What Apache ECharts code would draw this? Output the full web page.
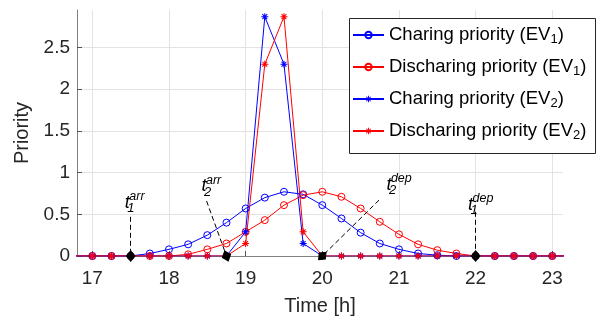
<!DOCTYPE html>
<html><head><meta charset="utf-8">
<script src="https://cdn.jsdelivr.net/npm/echarts@6/dist/echarts.min.js"></script>
<style>html,body{margin:0;padding:0;background:#fff}#c{width:599px;height:321px}</style>
</head><body><div id="c"></div>
<script>
// ---- data ----
const times = [16.75,17,17.25,17.5,17.75,18,18.25,18.5,18.75,19,19.25,19.5,19.75,20,20.25,20.5,20.75,21,21.25,21.5,21.75,22,22.25,22.5,22.75,23,23.25];
const chargingEV1    = [0,0,0,0,0.03,0.08,0.14,0.25,0.40,0.57,0.70,0.77,0.74,0.61,0.45,0.28,0.15,0.08,0.03,0.01,0,0,0,0,0,0,0];
const dischargingEV1 = [0,0,0,0,0,0,0.02,0.08,0.15,0.29,0.43,0.61,0.73,0.77,0.71,0.57,0.41,0.26,0.14,0.07,0.03,0,0,0,0,0,0];
const chargingEV2    = [0,0,0,0,0,0,0,0,0,0.29,2.87,2.30,0.15,0,0,0,0,0,0,0,0,0,0,0,0,0,0];
const dischargingEV2 = [0,0,0,0,0,0,0,0,0,0.15,2.30,2.87,0.29,0,0,0,0,0,0,0,0,0,0,0,0,0,0];
const seriesNames = ['Charing priority (EV1)','Discharing priority (EV1)','Charing priority (EV2)','Discharing priority (EV2)'];
const xTicks = [17,18,19,20,21,22,23];
const yTicks = [0,0.5,1,1.5,2,2.5];
// annotations (arrow head, arrow tail, text anchor)
const annoHead = [[17.5,0],[18.75,0],[20,0],[22,0]];
const annoTail = [[17.5,0.47],[18.49,0.66],[20.74,0.67],[22,0.53]];
const annoText = [[17.457,0.639],[18.456,0.836],[20.869,0.854],[21.934,0.615]];
const annoSup = ['arr','arr','dep','dep'];
const annoSub = ['1','2','2','1'];

const FONT = "'Liberation Sans', Arial, Helvetica, sans-serif";
const STAR = 'path://M8.5 0H11.5V20H8.5Z M0 8.5H20V11.5H0Z M4.06 1.94L18.06 15.94L15.94 18.06L1.94 4.06Z M15.94 1.94L18.06 4.06L4.06 18.06L1.94 15.94Z';

function pts(vals){ return times.map((t,i)=>[t, vals[i]]); }
function circleSeries(name, vals, color){
  return {name, type:'line', data: pts(vals), symbol:'circle', symbolSize:7, clip:true, animation:false, silent:true,
    lineStyle:{color, width:1}, itemStyle:{color:'transparent', borderColor:color, borderWidth:1}};
}
function starSeries(name, vals, color){
  return {name, type:'line', data: pts(vals), symbol:STAR, symbolSize:7, clip:true, animation:false, silent:true,
    lineStyle:{color, width:1}, itemStyle:{color, borderWidth:0}};
}

const labelPts = [];
annoText.forEach((p,i)=>{
  labelPts.push({coord:p, label:{show:true, position:'inside', formatter:'t', fontStyle:'italic', fontSize:18, color:'#000', fontFamily:FONT}});
  labelPts.push({coord:p, label:{show:true, position:'inside', align:'left', offset:[2,-6], formatter:annoSup[i], fontStyle:'italic', fontSize:12.5, color:'#000', fontFamily:FONT}});
  labelPts.push({coord:p, label:{show:true, position:'inside', align:'left', offset:[0,6], formatter:annoSub[i], fontStyle:'italic', fontSize:13, color:'#000', fontFamily:FONT}});
});

const chart = echarts.init(document.getElementById('c'), null, {renderer:'canvas'});
const option = {
  animation:false,
  backgroundColor:'#fff',
  grid:{left:77, top:10, right:36, bottom:63, containLabel:false},
  graphic:[{type:'rect', z:3, silent:true, shape:{x:349.5, y:18.5, width:246, height:135},
    style:{fill:'#fff', stroke:'#262626', lineWidth:1}}],
  xAxis:{type:'value', min:16.8, max:23.14,
    name:'Time [h]', nameLocation:'middle', nameGap:40,
    nameTextStyle:{fontSize:20, color:'#262626', fontFamily:FONT},
    axisLine:{show:true, onZero:false, lineStyle:{color:'#808080', width:1}},
    axisTick:{show:true, inside:true, length:5, customValues:xTicks, lineStyle:{color:'#555'}},
    axisLabel:{customValues:xTicks, margin:13, fontSize:19, color:'#262626', fontFamily:FONT},
    splitLine:{show:true, lineStyle:{color:'#e3e3e3', width:1}}
  },
  yAxis:{type:'value', min:0, max:2.95,
    name:'Priority', nameLocation:'middle', nameGap:41,
    nameTextStyle:{fontSize:20, color:'#262626', fontFamily:FONT},
    axisLine:{show:true, onZero:false, lineStyle:{color:'#808080', width:1}},
    axisTick:{show:true, inside:true, length:5, customValues:yTicks, lineStyle:{color:'#555'}},
    axisLabel:{customValues:yTicks, margin:7, fontSize:19, color:'#262626', fontFamily:FONT},
    splitLine:{show:true, lineStyle:{color:'#e3e3e3', width:1}}
  },
  legend:{data:seriesNames, orient:'vertical', left:349, top:18, z:5,
    itemWidth:31, itemHeight:8, itemGap:10, padding:[6,6,10,3],
    borderWidth:0, backgroundColor:'transparent',
    textStyle:{fontFamily:FONT, fontSize:18.5, color:'#000', lineHeight:22,
      rich:{sub:{fontFamily:FONT, fontSize:13, lineHeight:13, color:'#000', verticalAlign:'bottom'}}},
    formatter:(name)=>name.replace(/\(EV(\d)\)/, '(EV{sub|$1})')
  },
  series:[
    circleSeries(seriesNames[0], chargingEV1, '#0000ff'),
    circleSeries(seriesNames[1], dischargingEV1, '#ff0000'),
    starSeries(seriesNames[2], chargingEV2, '#0000ff'),
    starSeries(seriesNames[3], dischargingEV2, '#ff0000'),
    {name:'anno', type:'line', data:[], z:2, clip:false, silent:true, animation:false,
      markLine:{silent:true, animation:false, symbol:['none','none'],
        lineStyle:{color:'#000', type:[5,3], width:1}, label:{show:false},
        data: annoTail.map((t,i)=>[{coord:t}, {coord:annoHead[i]}])},
      markPoint:{silent:true, animation:false, symbol:'circle', symbolSize:1, itemStyle:{color:'transparent'},
        data: labelPts}
    }
  ]
};
chart.setOption(option);

// arrow heads: diamonds rotated along each arrow, using the chart's own scales
const headPts = annoHead.map((h,i)=>{
  const ph = chart.convertToPixel({gridIndex:0}, h);
  const pt = chart.convertToPixel({gridIndex:0}, annoTail[i]);
  const rot = Math.atan2(ph[0]-pt[0], ph[1]-pt[1]) * 180 / Math.PI;
  return {coord:h, symbolRotate:rot};
});
chart.setOption({series:[{},{},{},{},{},
  {name:'heads', type:'line', data:[], z:2, clip:false, silent:true, animation:false,
    markPoint:{silent:true, animation:false, symbol:'diamond', symbolSize:[10,12], symbolKeepAspect:false,
      itemStyle:{color:'#000'}, label:{show:false}, data: headPts}}
]});
</script></body></html>
